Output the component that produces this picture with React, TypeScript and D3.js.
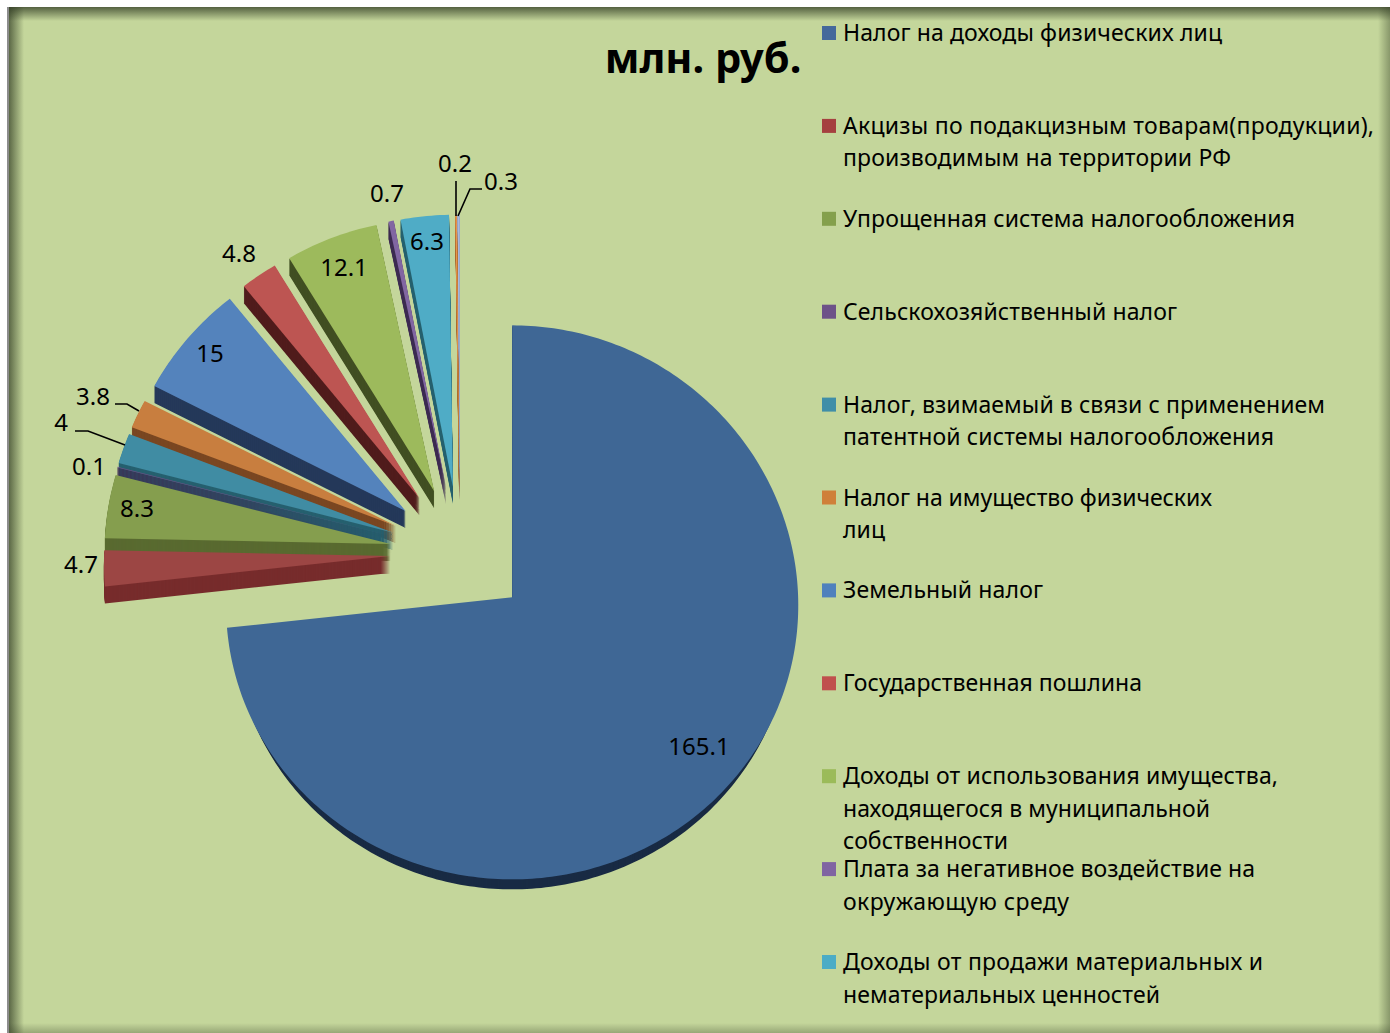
import * as d3 from "d3"

const values = [165.1, 4.7, 8.3, 0.1, 4, 3.8, 15, 4.8, 12.1, 0.7, 6.3, 0.2, 0.3]
const valueLabels = ["165.1", "4.7", "8.3", "0.1", "4", "3.8", "15", "4.8", "12.1", "0.7", "6.3", "0.2", "0.3"]
const topColors = ["#3f6795", "#9c4644", "#859e4e", "#664f82", "#408ca3", "#c87e3f", "#5483bc", "#bd5552", "#9dba5c", "#8166a2", "#4facc6", "#e8954a", "#a9b9da"]
const sideColors = ["#192b44", "#772c2c", "#596a30", "#3e2c52", "#26606f", "#7a4722", "#25395a", "#511d1d", "#414f22", "#3e2c52", "#26606f", "#a8682e", "#7a88a8"]

const legendNames = [
  ["Налог на доходы физических лиц"],
  ["Акцизы по подакцизным товарам(продукции),", "производимым на территории РФ"],
  ["Упрощенная система налогообложения"],
  ["Сельскохозяйственный налог"],
  ["Налог, взимаемый в связи с применением", "патентной системы налогообложения"],
  ["Налог на имущество физических", "лиц"],
  ["Земельный налог"],
  ["Государственная пошлина"],
  ["Доходы от использования имущества,", "находящегося в муниципальной", "собственности"],
  ["Плата за негативное воздействие на", "окружающую среду"],
  ["Доходы от продажи материальных и", "нематериальных ценностей"],
]
const legendColors = ["#44699b", "#a5403f", "#84a04c", "#6d5288", "#3f8ea8", "#cf8039", "#4f81bd", "#c0504d", "#9bbb59", "#8064a2", "#4bacc6"]

// line widths in the legend, so the text runs as far as in the picture
const legendWidths = [
  [379],
  [531, 388],
  [452],
  [334],
  [482, 431],
  [369, 42],
  [200],
  [299],
  [435, 367, 165],
  [412, 226],
  [420, 317],
]

// where the labels sit, same order as values
const labelSpots = [[699, 747], [81, 565], [137, 509], [89, 467], [61, 423], [93, 397], [210, 354], [239, 254], [344, 268], [387, 194], [427, 242], [455, 164], [501, 182]]
const leaders = [
  [[115, 404], [127, 404], [139, 411]],
  [[75, 431], [88, 431], [125, 445]],
  [[456, 181], [456, 216]],
  [[482, 189], [470, 189], [458, 216]],
]

const W = 1390
const H = 1033
const cx = 460
const cy = 553
const radius = 286
const explode = 70
const font = "'Noto Sans', sans-serif"

const legendY = d3.scaleLinear().domain([0, 10]).range([33, 962])
const slices = d3.pie<number>().sort(null)(values)
const outline = d3.line()

// tilted plane: the near side comes out a bit larger than the far side
function project(x: number, y: number): [number, number] {
  return [x * (1 + y * 0.0001), y * 0.9685 + y * y * 0.000061]
}

function slicePath(a0: number, a1: number) {
  const steps = Math.max(2, Math.ceil((a1 - a0) * 60))
  const arc = d3.range(steps + 1).map((i) => {
    const a = a0 + ((a1 - a0) * i) / steps
    return project(radius * Math.sin(a), -radius * Math.cos(a))
  })
  return outline([[0, 0], ...arc]) + "Z"
}

export default function App() {
  return (
    <div style={{ position: "absolute", left: 0, top: 0, width: W, height: H, overflow: "hidden", background: "#fff" }}>
      <svg width={W} height={H} style={{ display: "block" }}>
        <defs>
          <linearGradient id="shadeLeft" x1="0" x2="1" y1="0" y2="0">
            <stop offset="0" stopColor="#2f3a22" stopOpacity={0.75} />
            <stop offset="1" stopColor="#2f3a22" stopOpacity={0} />
          </linearGradient>
          <linearGradient id="shadeTop" x1="0" x2="0" y1="0" y2="1">
            <stop offset="0" stopColor="#2f3a22" stopOpacity={0.75} />
            <stop offset="1" stopColor="#2f3a22" stopOpacity={0} />
          </linearGradient>
          <linearGradient id="shadeRight" x1="1" x2="0" y1="0" y2="0">
            <stop offset="0" stopColor="#2f3a22" stopOpacity={0.4} />
            <stop offset="1" stopColor="#2f3a22" stopOpacity={0} />
          </linearGradient>
          <linearGradient id="shadeBottom" x1="0" x2="0" y1="1" y2="0">
            <stop offset="0" stopColor="#2f3a22" stopOpacity={0.3} />
            <stop offset="1" stopColor="#2f3a22" stopOpacity={0} />
          </linearGradient>
        </defs>

        <rect x={8} y={7} width={W - 8} height={H - 7} fill="#c4d69b" />
        <rect x={8} y={7} width={16} height={H - 7} fill="url(#shadeLeft)" />
        <rect x={8} y={7} width={W - 8} height={14} fill="url(#shadeTop)" />
        <rect x={W - 12} y={7} width={12} height={H - 7} fill="url(#shadeRight)" />
        <rect x={8} y={H - 10} width={W - 8} height={10} fill="url(#shadeBottom)" />
        <rect x={7} y={7} width={2} height={H - 7} fill="#8c8c8c" />

        {slices
          .map((s, i) => {
            const mid = (s.startAngle + s.endAngle) / 2
            const ox = cx + explode * Math.sin(mid)
            const oy = cy - explode * 0.95 * Math.cos(mid)
            const d = slicePath(s.startAngle, s.endAngle)
            const depth = i === 0 ? 10 : 17
            // the big slice narrows toward its base, so its rim dies out at the sides
            const sideScale = i === 0 ? 0.98 : 1
            return (
              <g key={i} transform={`translate(${ox},${oy})`}>
                {d3.range(depth, 0, -1).map((dy) => (
                  <path key={dy} d={d} transform={`translate(0,${dy}) scale(${sideScale},1)`} fill={sideColors[i]} />
                ))}
                <path d={d} fill={topColors[i]} />
              </g>
            )
          })
          .reverse()}

        {leaders.map((pts, i) => (
          <path key={i} d={outline(pts as [number, number][]) ?? ""} fill="none" stroke="#000" strokeWidth={1.6} />
        ))}

        <g fontFamily={font} fontSize={24} fill="#000" textAnchor="middle">
          {valueLabels.map((t, i) => (
            <text key={i} x={labelSpots[i][0]} y={labelSpots[i][1] + 8}>
              {t}
            </text>
          ))}
        </g>

        <text x={703} y={73} fontFamily={font} fontSize={41.5} fontWeight={700} textAnchor="middle" fill="#000">
          млн. руб.
        </text>

        <g fontFamily={font} fontSize={23} fill="#000">
          {legendNames.map((lines, i) => (
            <g key={i}>
              <rect x={822} y={legendY(i) - 7} width={14} height={14} fill={legendColors[i]} />
              {lines.map((line, j) => (
                <text key={j} x={843} y={legendY(i) + 8 + j * 32.5} textLength={legendWidths[i][j]} lengthAdjust="spacing">
                  {line}
                </text>
              ))}
            </g>
          ))}
        </g>
      </svg>
    </div>
  )
}
